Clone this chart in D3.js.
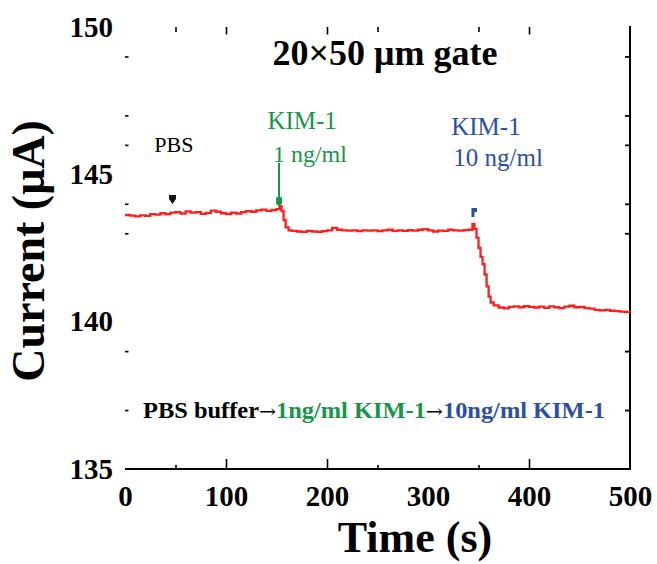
<!DOCTYPE html>
<html><head><meta charset="utf-8">
<script src="https://cdn.jsdelivr.net/npm/d3@7"></script>
<style>body{margin:0;background:#fff} svg{display:block}</style>
</head><body><svg id="c" width="657" height="564"></svg>
<script>
// ---- data ----
const timeS = [0,5,10,15,20,25,30,35,40,45,50,55,60,65,70,75,80,85,90,95,100,105,110,115,120,125,130,135,140,145,150,153,155,157,159,162,165,170,175,180,185,190,195,200,205,210,215,220,225,230,235,240,245,250,255,260,265,270,275,280,285,290,295,300,305,310,315,320,325,330,335,340,344,346,348,350,352,354,356,358,360,362,365,370,375,380,385,390,395,400,405,410,415,420,425,430,435,440,445,450,455,460,465,470,475,480,485,490,495,500];
const currentUA = [143.62,143.60,143.57,143.61,143.59,143.65,143.63,143.68,143.65,143.70,143.72,143.67,143.74,143.70,143.72,143.66,143.69,143.77,143.73,143.68,143.65,143.70,143.67,143.72,143.75,143.73,143.78,143.80,143.76,143.79,143.82,143.92,143.75,143.45,143.20,143.10,143.08,143.06,143.05,143.08,143.06,143.05,143.07,143.10,143.18,143.12,143.10,143.09,143.10,143.07,143.10,143.09,143.10,143.07,143.10,143.12,143.08,143.10,143.08,143.11,143.09,143.12,143.14,143.10,143.06,143.09,143.08,143.12,143.10,143.09,143.11,143.12,143.32,143.15,142.85,142.50,142.20,141.95,141.60,141.20,140.85,140.65,140.55,140.48,140.45,140.50,140.52,140.49,140.53,140.50,140.48,140.51,140.47,140.52,140.49,140.46,140.51,140.54,140.49,140.50,140.46,140.44,140.40,140.38,140.40,140.37,140.36,140.34,140.33,140.31];
const xTickLabels = [0,100,200,300,400,500];
const yTickLabels = [135,140,145,150];
const xMajorTicks = [100,200,400];
const xMinorTicks = [50,250,350];
const yMinorTicks = [137,139,143,144,146,147,149];
const titleText = "20×50 μm gate";
const xTitle = "Time (s)";
const yTitle = "Current (μA)";

const series = timeS.map((t,i)=>({t, v: currentUA[i]}));

const svg = d3.select('#c');
const serif = "'Liberation Serif','Times New Roman',serif";
const x = d3.scaleLinear().domain([0,500]).range([125,630]);
const y = d3.scaleLinear().domain([135,150]).range([469,27]);
const RED = "#ff1e1e", GREEN = "#17964b", BLUE = "#2d4ea6";

function strip(g){ g.select('.domain').remove(); g.selectAll('text').remove(); }

// bottom axis line + inward ticks
svg.append('line').attr('x1',x(0)).attr('x2',x(500)).attr('y1',y(135)).attr('y2',y(135))
  .attr('stroke','#000').attr('stroke-width',1.8);
svg.append('g').attr('transform',`translate(0,${y(135)})`)
  .call(d3.axisBottom(x).tickValues(xMajorTicks).tickSize(-10)).call(strip)
  .selectAll('line').attr('stroke-width',1.6);
svg.append('g').attr('transform',`translate(0,${y(135)})`)
  .call(d3.axisBottom(x).tickValues(xMinorTicks).tickSize(-4)).call(strip)
  .selectAll('line').attr('stroke-width',1.6);
// top ticks (no line)
svg.append('g').attr('transform',`translate(0,${y(150)})`)
  .call(d3.axisTop(x).tickValues(xMajorTicks).tickSize(-7.5)).call(strip)
  .selectAll('line').attr('stroke-width',1.6);
svg.append('g').attr('transform',`translate(0,${y(150)})`)
  .call(d3.axisTop(x).tickValues(xMinorTicks).tickSize(-5)).call(strip)
  .selectAll('line').attr('stroke-width',1.6);
// right axis line + inward ticks
svg.append('line').attr('x1',x(500)).attr('x2',x(500)).attr('y1',y(150)-1).attr('y2',y(135)+1)
  .attr('stroke','#000').attr('stroke-width',2);
svg.append('g').attr('transform',`translate(${x(500)},0)`)
  .call(d3.axisRight(y).tickValues(yMinorTicks).tickSize(-5)).call(strip)
  .selectAll('line').attr('stroke-width',1.8);
// left ticks (no line)
svg.append('g').attr('transform',`translate(${x(0)},0)`)
  .call(d3.axisLeft(y).tickValues(yMinorTicks).tickSize(-3.5)).call(strip)
  .selectAll('line').attr('stroke-width',1.6);

// tick labels
const xl = svg.append('g').attr('transform',`translate(0,${y(135)})`)
  .call(d3.axisBottom(x).tickValues(xTickLabels).tickSize(0).tickPadding(16).tickFormat(d3.format('d')));
xl.select('.domain').remove();
xl.selectAll('text').attr('font-family',serif).attr('font-weight','bold').attr('font-size',29).attr('fill','#000');
const yl = svg.append('g').attr('transform',`translate(${x(0)},0)`)
  .call(d3.axisLeft(y).tickValues(yTickLabels).tickSize(0).tickPadding(12).tickFormat(d3.format('d')));
yl.select('.domain').remove();
yl.selectAll('text').attr('font-family',serif).attr('font-weight','bold').attr('font-size',29).attr('fill','#000');

// axis titles
svg.append('text').attr('x',415).attr('y',552).attr('text-anchor','middle')
  .attr('font-family',serif).attr('font-weight','bold').attr('font-size',44).text(xTitle);
svg.append('text').attr('transform','translate(44,251) rotate(-90)').attr('text-anchor','middle')
  .attr('font-family',serif).attr('font-weight','bold').attr('font-size',46).text(yTitle);

// chart title
svg.append('text').attr('x',385).attr('y',65).attr('text-anchor','middle')
  .attr('font-family',serif).attr('font-weight','bold').attr('font-size',36).text(titleText);

// data line
svg.append('path').datum(series)
  .attr('d', d3.line().x(d=>x(d.t)).y(d=>y(d.v)).curve(d3.curveStepAfter))
  .attr('fill','none').attr('stroke',RED).attr('stroke-width',2.3);

// annotations
function txt(xp, yp, s, col, size, weight){
  return svg.append('text').attr('x',xp).attr('y',yp).attr('font-family',serif)
    .attr('font-size',size).attr('font-weight',weight||'normal').attr('fill',col).text(s);
}
txt(x(29), 152, 'PBS', '#000', 22);
// PBS marker
{ const px = x(47), py = y(143.99);
  svg.append('path').attr('d',`M${px-3.5},${py-9}L${px+3.5},${py-9}L${px+3.5},${py-5}L${px},${py}L${px-3.5},${py-5}Z`).attr('fill','#111'); }
// green
txt(x(141), 129, 'KIM-1', GREEN, 25);
txt(x(146.5), 162, '1 ng/ml', GREEN, 24);
{ const px = x(152.5), py = y(143.92);
  svg.append('line').attr('x1',px).attr('x2',px).attr('y1',163).attr('y2',py-4).attr('stroke',GREEN).attr('stroke-width',2);
  svg.append('path').attr('d',`M${px-3},${py-9}L${px+3},${py-9}L${px+3},${py-3}L${px},${py}L${px-3},${py-3}Z`).attr('fill',GREEN); }
// blue
txt(x(323), 135, 'KIM-1', BLUE, 25);
txt(x(325), 166, '10 ng/ml', BLUE, 25);
{ const px = x(345.5), py = y(143.55);
  svg.append('path').attr('d',`M${px-2.5},${py-9}L${px+3},${py-9}L${px+3},${py-5}L${px+0.5},${py-5}L${px+0.5},${py}L${px-2.5},${py}Z`).attr('fill',BLUE); }

// bottom annotation line
{ const t = svg.append('text').attr('x',143).attr('y',418).attr('font-family',serif)
    .attr('font-weight','bold').attr('font-size',24).attr('textLength',462).attr('lengthAdjust','spacingAndGlyphs');
  t.append('tspan').attr('fill','#000').text('PBS buffer');
  t.append('tspan').attr('fill','#000').attr('font-family','DejaVu Serif').attr('font-weight','normal').attr('font-size',20).text('→');
  t.append('tspan').attr('fill',GREEN).text('1ng/ml KIM-1');
  t.append('tspan').attr('fill','#000').attr('font-family','DejaVu Serif').attr('font-weight','normal').attr('font-size',20).text('→');
  t.append('tspan').attr('fill',BLUE).text('10ng/ml KIM-1');
}
</script></body></html>
